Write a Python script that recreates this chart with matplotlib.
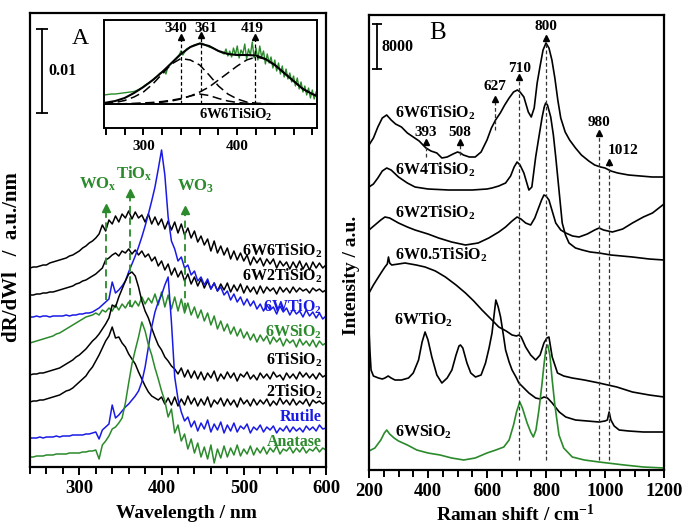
import numpy as np
import matplotlib.pyplot as plt
from matplotlib.ticker import MultipleLocator

plt.rcParams['font.family'] = ['Liberation Serif', 'DejaVu Serif']
plt.rcParams['font.weight'] = 'bold'
plt.rcParams['mathtext.fontset'] = 'custom'
plt.rcParams['mathtext.rm'] = 'Liberation Serif:bold'
plt.rcParams['mathtext.default'] = 'regular'

GREEN = '#2b8a2b'
BLUE = '#1a1ae6'

# ---------------- panel A : derivative UV-vis, stacked (a.u.) ----------------
wl = np.arange(240, 601, 4)

uv_6w6 = [199, 200, 200, 201, 202, 202, 204, 205, 206, 207,
          208, 209, 211, 212, 214, 216, 219, 221, 224, 226,
          229, 233, 242, 236, 247, 243, 251, 245, 253, 249,
          256, 248, 255, 249, 252, 245, 253, 243, 250, 242,
          248, 238, 246, 237, 245, 234, 243, 232, 239, 229,
          236, 225, 231, 222, 228, 216, 226, 214, 221, 212,
          219, 208, 216, 207, 214, 206, 212, 202, 210, 204,
          209, 201, 208, 203, 208, 199, 206, 201, 205, 198,
          205, 199, 206, 198, 204, 197, 205, 199, 204, 199,
          202]
uv_6w2 = [172, 172, 173, 173, 174, 174, 175, 175, 176, 177,
          178, 179, 180, 181, 183, 184, 186, 187, 189, 191,
          193, 196, 199, 207, 209, 212, 214, 211, 216, 214,
          218, 213, 217, 212, 216, 210, 213, 206, 210, 201,
          206, 197, 203, 192, 199, 190, 196, 186, 193, 183,
          190, 181, 188, 179, 186, 178, 184, 176, 183, 177,
          184, 175, 182, 176, 183, 174, 181, 175, 180, 173,
          181, 174, 180, 176, 179, 173, 180, 175, 179, 174,
          180, 175, 179, 176, 178, 174, 179, 176, 178, 175,
          177]
uv_6wtio2 = [150, 150, 151, 150, 151, 151, 150, 151, 151, 151,
             151, 152, 151, 152, 152, 153, 153, 154, 154, 155,
             157, 159, 162, 165, 168, 185, 174, 177, 181, 186,
             195, 203, 211, 220, 230, 241, 253, 266, 280, 298,
             317, 292, 250, 226, 218, 206, 210, 199, 202, 192,
             196, 186, 190, 182, 188, 178, 184, 176, 180, 172,
             176, 167, 173, 165, 170, 162, 168, 161, 166, 158,
             163, 156, 162, 157, 160, 153, 161, 155, 159, 152,
             158, 153, 156, 150, 157, 151, 155, 149, 154, 148,
             151]
uv_6wsio2 = [124, 125, 126, 127, 128, 129, 130, 131, 133, 134,
             136, 138, 140, 142, 144, 146, 148, 150, 151, 152,
             154, 152, 157, 155, 159, 156, 162, 157, 163, 159,
             165, 160, 166, 161, 170, 163, 169, 164, 173, 162,
             175, 160, 172, 158, 170, 156, 168, 154, 164, 152,
             160, 149, 157, 146, 154, 142, 151, 138, 146, 136,
             143, 133, 140, 131, 138, 129, 135, 127, 133, 125,
             132, 126, 131, 123, 130, 125, 129, 121, 128, 124,
             127, 120, 128, 122, 126, 121, 127, 120, 126, 122,
             124]
uv_6tisio2 = [92, 93, 93, 94, 94, 95, 96, 97, 98, 99,
              101, 103, 105, 107, 110, 112, 115, 118, 122, 126,
              129, 133, 138, 143, 149, 162, 160, 170, 178, 186,
              193, 195, 191, 180, 166, 156, 149, 139, 130, 122,
              117, 110, 106, 101, 98, 93, 99, 90, 97, 89,
              96, 88, 95, 87, 94, 89, 96, 86, 93, 88,
              95, 89, 94, 86, 93, 90, 95, 88, 92, 87,
              94, 89, 93, 88, 95, 90, 92, 87, 94, 89,
              93, 88, 95, 90, 94, 89, 93, 88, 94, 90,
              92]
uv_2tisio2 = [65, 66, 66, 67, 67, 68, 69, 70, 71, 72,
              74, 76, 77, 79, 82, 85, 88, 91, 96, 100,
              106, 112, 119, 126, 131, 140, 129, 130, 124, 120,
              113, 108, 103, 95, 88, 81, 75, 71, 69, 67,
              70, 63, 69, 62, 70, 61, 68, 62, 71, 63,
              69, 61, 68, 62, 70, 60, 67, 63, 69, 61,
              68, 62, 67, 60, 69, 63, 67, 61, 68, 62,
              67, 63, 68, 61, 66, 62, 69, 63, 67, 62,
              68, 62, 66, 63, 68, 61, 67, 64, 66, 63,
              65]
uv_rutile = [29, 29, 29, 30, 29, 30, 30, 30, 31, 30,
             31, 31, 31, 32, 32, 32, 32, 33, 33, 34,
             35, 28, 37, 40, 43, 62, 49, 52, 56, 60,
             63, 67, 71, 76, 85, 100, 120, 140, 155, 165,
             172, 182, 190, 145, 90, 68, 55, 46, 50, 40,
             46, 36, 44, 38, 47, 35, 43, 37, 45, 34,
             42, 36, 44, 35, 41, 38, 43, 34, 40, 37,
             42, 35, 40, 37, 41, 34, 39, 36, 41, 35,
             40, 36, 39, 35, 41, 37, 40, 36, 42, 38,
             39]
uv_anatase = [10, 10, 11, 11, 11, 12, 12, 12, 13, 13,
              13, 13, 14, 14, 14, 14, 15, 15, 16, 16,
              17, 8, 22, 26, 31, 38, 40, 44, 49, 64,
              84, 103, 117, 130, 145, 136, 122, 112, 99, 88,
              76, 66, 50, 58, 34, 42, 26, 33, 18, 28,
              14, 24, 10, 20, 8, 22, 4, 18, 9, 21,
              10, 19, 12, 22, 11, 18, 13, 21, 12, 19,
              14, 20, 13, 19, 15, 21, 13, 18, 16, 20,
              14, 19, 15, 20, 14, 18, 16, 20, 15, 19,
              17]

uv_series = [uv_6w6, uv_6w2, uv_6wtio2, uv_6wsio2, uv_6tisio2, uv_2tisio2, uv_rutile, uv_anatase]
uv_colors = ['k', 'k', BLUE, GREEN, 'k', 'k', BLUE, GREEN]
uv_names = ['6W6TiSiO$_2$', '6W2TiSiO$_2$', '6WTiO$_2$', '6WSiO$_2$',
            '6TiSiO$_2$', '2TiSiO$_2$', 'Rutile', 'Anatase']
uv_label_y = [216, 191, 160, 135, 107, 75, 50, 25]

# marker arrows in panel A: position, base, head, label x, label y
uv_marks = ['WO$_x$', 'TiO$_x$', 'WO$_3$']
uv_mark_x = [333, 362, 429]
uv_mark_lo = [167, 160, 157]
uv_mark_hi = [259, 274, 257]
uv_mark_tx = [322, 367, 441]
uv_mark_ty = [274, 284, 272]

# inset: deconvolution of 6W6TiSiO2
ins_wl = [258, 262, 266, 270, 274, 278, 282, 286, 290, 294, 298, 302, 306, 310, 314, 318,
          322, 324, 326, 330, 334, 338, 340, 342, 346, 350, 354, 358, 362, 366, 370, 374,
          378, 382, 386, 388, 390, 392, 394, 396, 398, 400, 402, 404, 406, 408, 410, 412,
          414, 416, 418, 420, 422, 424, 426, 428, 430, 432, 434, 436, 438, 440, 442, 444,
          446, 448, 450, 452, 454, 456, 458, 460, 462, 464, 466, 468, 470, 472, 474, 476,
          478, 480, 482, 484]
ins_raw = [9, 9.5, 10, 10, 10.5, 11, 11.5, 12, 12.5, 14, 16, 19, 21, 24, 27, 31,
           33, 30, 37, 41, 45, 49, 53, 49, 55, 57, 59, 60, 61, 59, 57, 56,
           54, 52, 50, 55, 48, 53, 47, 56, 49, 58, 46, 54, 50, 60, 45, 55,
           49, 62, 46, 56, 44, 58, 47, 53, 40, 50, 41, 47, 36, 44, 33, 41,
           30, 38, 27, 35, 25, 31, 22, 28, 18, 26, 15, 22, 12, 18, 9, 16,
           6, 14, 5, 12]
fit_wl = [258, 270, 280, 290, 300, 310, 320, 330, 340, 350, 360, 370, 380, 390, 400, 410,
          420, 430, 440, 450, 460, 470, 480, 485]
fit_total = [1, 3, 6, 11, 17, 24, 32, 41, 50, 57, 60.5, 58, 53, 50, 49, 49,
             48.5, 45, 39, 31, 23, 15, 10, 8]
fit_g340 = [0.5, 1.5, 3.5, 7, 12, 20, 30, 40, 45.5, 44, 39, 29, 18, 10, 5, 2,
            0.8, 0.4, 0.2, 0.1, 0, 0, 0, 0]
fit_g361 = [0, 0, 0.1, 0.3, 0.6, 1, 1.8, 3, 5, 8, 10, 8.5, 5.5, 3, 1.5, 0.7,
            0.3, 0.1, 0, 0, 0, 0, 0, 0]
fit_g419 = [0, 0, 0.3, 0.6, 1, 1.6, 2.5, 3.8, 5.5, 8, 12, 17, 24, 31, 38, 44,
            47, 45, 39, 31, 23, 15, 10, 8]
ins_peaks = [340, 361, 419]
ins_peak_head = [67, 69, 67]
ins_peak_tx = [335, 367, 416]

# ---------------- panel B : Raman, stacked (a.u.) ----------------
r_6w6_x = [200, 215, 230, 245, 260, 275, 290, 310, 330, 350, 370, 393, 410, 430, 447, 465,
           485, 500, 510, 520, 540, 560, 580, 600, 615, 629, 645, 660, 675, 690, 703, 712,
           725, 740, 750, 760, 770, 780, 790, 800, 810, 820, 830, 840, 850, 865, 880, 900,
           920, 945, 965, 985, 1000, 1020, 1043, 1080, 1120, 1160, 1200]
r_6w6_y = [325, 332, 343, 352, 355, 350, 346, 343, 337, 333, 329, 322, 319, 317, 312, 313,
           316, 318, 317, 315, 313, 313, 318, 330, 342, 350, 357, 365, 372, 378, 380, 378,
           373, 358, 353, 362, 387, 404, 420, 427, 422, 410, 392, 370, 352, 338, 330, 322,
           315, 309, 305, 303, 302, 299, 297, 295, 294, 293, 293]
r_6w4_x = [200, 215, 230, 245, 260, 275, 300, 330, 356, 400, 470, 550, 600, 617, 640, 663,
           680, 692, 702, 712, 725, 735, 742, 752, 765, 777, 787, 794, 799, 805, 816, 825,
           833, 844, 855, 866, 878, 900, 923, 950, 980, 1020, 1093, 1150, 1200]
r_6w4_y = [283, 286, 292, 299, 302, 300, 293, 287, 283, 281, 280, 280, 281, 282, 284, 287,
           294, 303, 308, 305, 297, 287, 280, 283, 313, 335, 353, 363, 367, 365, 353, 335,
           313, 280, 247, 235, 227, 222, 220, 218, 217, 215, 213, 211, 210]
r_6w2_x = [200, 220, 240, 254, 270, 300, 330, 356, 400, 436, 480, 527, 570, 606, 640, 663,
           685, 702, 715, 731, 748, 762, 776, 785, 793, 800, 810, 822, 833, 850, 867, 890,
           912, 940, 965, 980, 995, 1025, 1060, 1093, 1130, 1161, 1200]
r_6w2_y = [240, 245, 250, 253, 252, 247, 243, 240, 236, 232, 228, 225, 227, 232, 238, 243,
           249, 253, 251, 247, 245, 252, 263, 270, 275, 274, 270, 258, 247, 240, 237, 234,
           233, 236, 240, 242, 240, 238, 241, 247, 253, 257, 266]
r_6w05_x = [200, 215, 232, 245, 254, 262, 266, 270, 277, 300, 322, 360, 390, 425, 459, 495,
            527, 555, 583, 610, 640, 665, 685, 700, 708, 716, 731, 748, 765, 780, 793, 803,
            810, 821, 839, 860, 889, 930, 980, 1040, 1093, 1150, 1200]
r_6w05_y = [177, 185, 193, 199, 203, 206, 213, 207, 205, 206, 207, 205, 203, 199, 193, 185,
            177, 169, 160, 152, 143, 139, 135, 134, 135, 133, 123, 115, 110, 115, 127, 132,
            133, 113, 97, 94, 92, 90, 87, 83, 78, 75, 73]
r_6wtio2_x = [200, 203, 207, 215, 232, 245, 254, 265, 275, 288, 310, 334, 350, 368, 380, 390,
              400, 413, 430, 447, 465, 481, 495, 505, 510, 518, 532, 545, 561, 580, 595, 607,
              617, 624, 630, 638, 646, 655, 663, 675, 685, 700, 708, 725, 742, 765, 780, 793,
              805, 821, 845, 867, 900, 940, 980, 1000, 1008, 1014, 1020, 1031, 1048, 1080,
              1130, 1200]
r_6wtio2_y = [140, 120, 100, 94, 92, 91, 92, 94, 92, 90, 90, 92, 97, 110, 128, 138,
              130, 113, 95, 87, 92, 100, 115, 124, 125, 122, 107, 97, 93, 95, 107, 122,
              137, 155, 170, 163, 153, 136, 120, 108, 100, 92, 87, 82, 77, 72, 71, 73,
              72, 67, 58, 53, 50, 49, 48, 49, 50, 58, 50, 44, 40, 39,
              38, 38]
r_6wsio2_x = [200, 220, 240, 252, 260, 270, 285, 300, 330, 362, 400, 441, 480, 521, 560, 600,
              630, 657, 675, 690, 700, 711, 720, 736, 748, 757, 766, 776, 786, 793, 800, 806,
              813, 821, 830, 844, 860, 889, 930, 980, 1065, 1130, 1200]
r_6wsio2_y = [19, 22, 30, 37, 40, 36, 32, 29, 25, 20, 17, 15, 12, 10, 12, 17,
              20, 23, 30, 45, 58, 68, 62, 47, 38, 33, 40, 60, 85, 105, 122, 125,
              115, 90, 65, 35, 22, 13, 10, 8, 5, 3, 2]

raman_x = [r_6w6_x, r_6w4_x, r_6w2_x, r_6w05_x, r_6wtio2_x, r_6wsio2_x]
raman_y = [r_6w6_y, r_6w4_y, r_6w2_y, r_6w05_y, r_6wtio2_y, r_6wsio2_y]
raman_colors = ['k', 'k', 'k', 'k', 'k', GREEN]
raman_names = ['6W6TiSiO$_2$', '6W4TiSiO$_2$', '6W2TiSiO$_2$', '6W0.5TiSiO$_2$',
               '6WTiO$_2$', '6WSiO$_2$']
raman_label_x = [289, 289, 289, 289, 284, 289]
raman_label_y = [357, 300, 257, 215, 150, 38]

# band markers: position, bottom of dashed line, arrow head, label y
band_pos = [393, 508, 627, 710, 800, 980, 1012]
band_lo = [313, 315, 340, 10, 10, 10, 10]
band_hi = [328, 328, 371, 393, 432, 337, 308]
band_ty = [337, 337, 383, 402, 443, 347, 320]

# ---------------- figure ----------------
W, H = 683, 529
fig = plt.figure(figsize=(W / 100, H / 100), dpi=100)


def px_axes(l, t, r, b):
    return fig.add_axes([l / W, 1 - b / H, (r - l) / W, (b - t) / H])


def style_axes(ax, lw=1.6):
    for s in ax.spines.values():
        s.set_linewidth(lw)
    ax.tick_params(axis='x', which='both', direction='out', width=1.4, labelsize=13.5,
                   top=False)
    ax.tick_params(axis='x', which='major', length=6)
    ax.tick_params(axis='x', which='minor', length=5)
    ax.tick_params(axis='y', left=False, right=False, labelleft=False)


# panel A
axA = px_axes(30, 13, 326, 467)
for ys, c in zip(uv_series, uv_colors):
    axA.plot(wl, ys, color=c, lw=1.1)
axA.set_xlim(240, 600)
axA.set_ylim(0, 454)
axA.xaxis.set_major_locator(MultipleLocator(100))
axA.xaxis.set_minor_locator(MultipleLocator(20))
style_axes(axA)
for name, y, c in zip(uv_names, uv_label_y, uv_colors):
    axA.text(595, y, name, color=c, ha='right', va='center', fontsize=11.5)
for name, x, lo, hi, tx, ty in zip(uv_marks, uv_mark_x, uv_mark_lo, uv_mark_hi,
                                   uv_mark_tx, uv_mark_ty):
    axA.plot([x, x], [lo, hi], color=GREEN, lw=1.3, ls=(0, (4, 2.5)))
    axA.plot([x], [hi], marker='^', color=GREEN, ms=6)
    axA.text(tx, ty, name, color=GREEN, ha='center', va='bottom', fontsize=12)
# scale bar
axA.plot([254.5, 254.5], [354, 438], color='k', lw=1.3)
axA.plot([254.5, 254.5], [354, 438], ls='none', marker='_', ms=8, mew=1.3, color='k')
axA.text(262, 396, '0.01', ha='left', va='center', fontsize=11.5)
axA.text(301, 428, 'A', ha='center', va='center', fontsize=17, fontweight='normal')
fig.text(186 / W, 1 - 514 / H, 'Wavelength / nm', ha='center', va='center', fontsize=14)
fig.text(12 / W, 1 - 257 / H, 'dR/dWl   /  a.u./nm', rotation=90, ha='center',
         va='center', fontsize=15)

# inset
axI = px_axes(104, 20, 317, 128)
axI.plot(ins_wl, ins_raw, color=GREEN, lw=1.0)
axI.plot(fit_wl, fit_total, color='k', lw=1.5)
for g in (fit_g340, fit_g361, fit_g419):
    axI.plot(fit_wl, g, color='k', lw=1.1, ls=(0, (6, 3)))
axI.axhline(0, color='k', lw=1.4)
for p, hd, tx in zip(ins_peaks, ins_peak_head, ins_peak_tx):
    axI.plot([p, p], [0, hd], color='k', lw=0.9, ls=(0, (3, 2)))
    axI.plot([p], [hd], marker='^', color='k', ms=5)
    axI.text(tx, 76, str(p), ha='center', va='center', fontsize=11)
axI.text(398, -11, '6W6TiSiO$_2$', ha='center', va='center', fontsize=10.5)
axI.set_xlim(258, 485)
axI.set_ylim(-24, 84)
axI.xaxis.set_major_locator(MultipleLocator(100))
axI.xaxis.set_minor_locator(MultipleLocator(20))
style_axes(axI, lw=1.4)
axI.tick_params(axis='x', labelsize=11, length=5)

# panel B
axB = px_axes(369, 15, 664, 470)
for xs, ys, c in zip(raman_x, raman_y, raman_colors):
    axB.plot(xs, ys, color=c, lw=1.2)
axB.set_xlim(200, 1200)
axB.set_ylim(0, 455)
axB.xaxis.set_major_locator(MultipleLocator(200))
axB.xaxis.set_minor_locator(MultipleLocator(50))
style_axes(axB)
for name, x, y, c in zip(raman_names, raman_label_x, raman_label_y, raman_colors):
    axB.text(x, y, name, color='k', ha='left', va='center', fontsize=11.5)
for p, lo, hi, ty in zip(band_pos, band_lo, band_hi, band_ty):
    axB.plot([p, p], [lo, hi], color='#333333', lw=0.9, ls=(0, (3, 2)))
    axB.plot([p], [hi], marker='^', color='k', ms=5)
    if p == 1012:
        axB.text(p - 4, ty, str(p), ha='left', va='center', fontsize=11)
    else:
        axB.text(p, ty, str(p), ha='center', va='center', fontsize=11)
axB.plot([227, 227], [401, 446], color='k', lw=1.3)
axB.plot([227, 227], [401, 446], ls='none', marker='_', ms=7, mew=1.3, color='k')
axB.text(244, 423, '8000', ha='left', va='center', fontsize=11.5)
axB.text(431, 437, 'B', ha='center', va='center', fontsize=18, fontweight='normal')
fig.text(515 / W, 1 - 514 / H, 'Raman shift / cm$^{-1}$', ha='center', va='center',
         fontsize=14)
fig.text(352 / W, 1 - 275 / H, 'Intensity / a.u.', rotation=90, ha='center', va='center',
         fontsize=14)

fig.savefig('out.png', dpi=100)
